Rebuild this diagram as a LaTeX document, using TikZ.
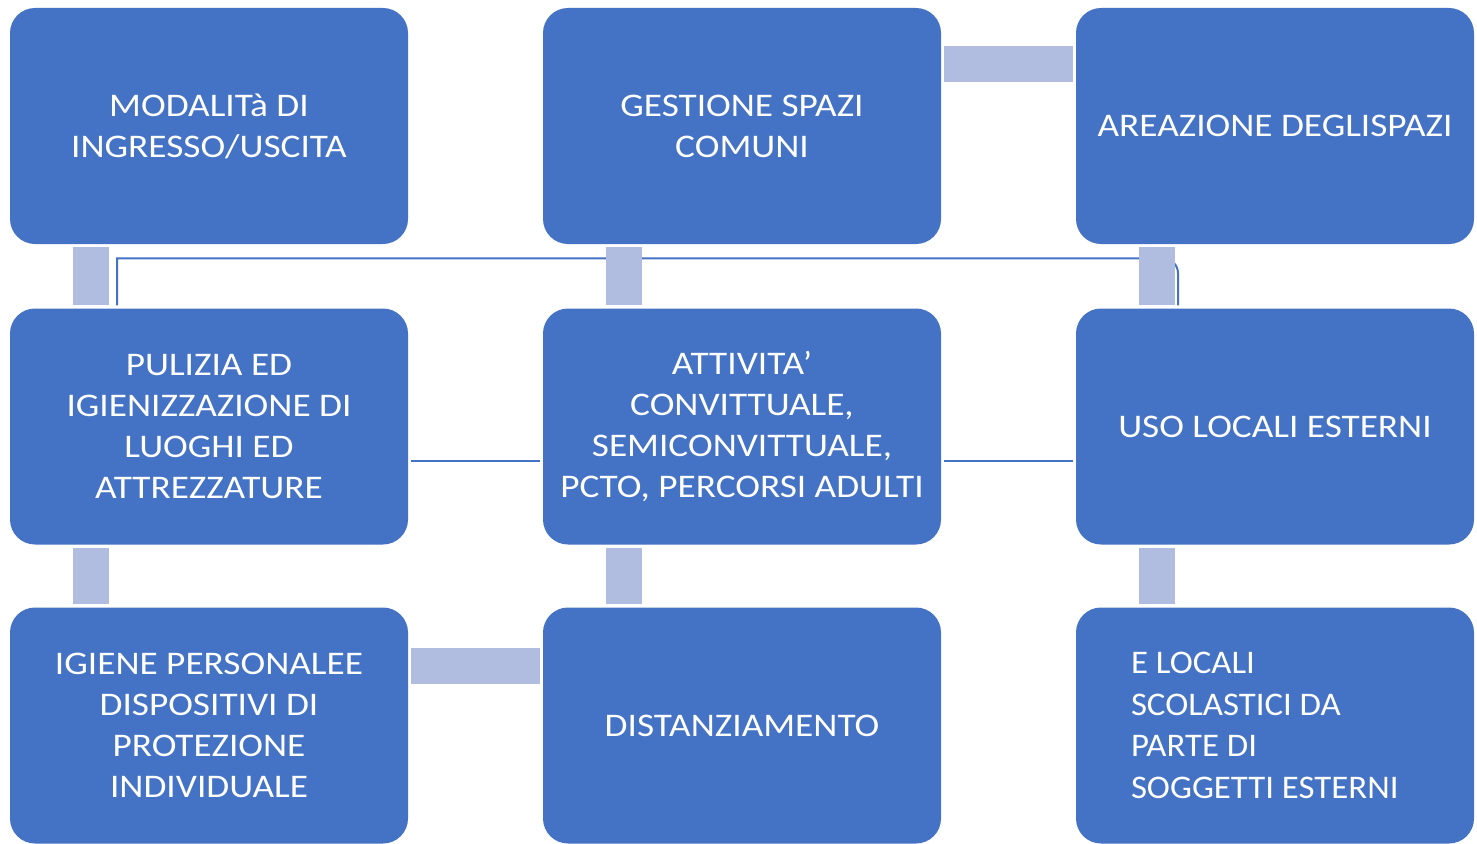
\documentclass[tikz,border=0pt]{standalone}
\usepackage{fontspec}
\setmainfont{Carlito}[FakeStretch=1.13]
\newfontfamily\narrowcard{Carlito}[FakeStretch=1.055]
\definecolor{boxblue}{HTML}{4472C4}
\definecolor{barblue}{HTML}{B0BDE0}
\tikzset{
  card/.style={rectangle, rounded corners=25pt, fill=boxblue, text=white,
    minimum width=398pt, minimum height=236pt, align=center,
    font=\fontsize{33}{41}\selectfont},
  bar/.style={draw=barblue, line width=36pt, shorten <=3pt, shorten >=3pt},
  wire/.style={draw=boxblue, line width=2pt, shorten <=3pt, shorten >=3pt}
}
\begin{document}
\begin{tikzpicture}[x=1pt, y=-1pt]
    \useasboundingbox (0,0) rectangle (1477,843);
    \def\ax{209}; \def\bx{742}; \def\cx{1275};
    \def\ay{126}; \def\by{426.5}; \def\cy{725.5};

    \node[card] (MO) at (\ax,\ay) {MODALIT\`a DI\\INGRESSO/USCITA};
    \node[card] (GS) at (\bx,\ay) {GESTIONE SPAZI\\COMUNI};
    \node[card] (AR) at (\cx,\ay) {AREAZIONE DEGLISPAZI};
    \node[card] (PU) at (\ax,\by) {PULIZIA ED\\IGIENIZZAZIONE DI\\LUOGHI ED\\ATTREZZATURE};
    \node[card] (AT) at (\bx,\by) {ATTIVITA’\\CONVITTUALE,\\SEMICONVITTUALE,\\PCTO, PERCORSI ADULTI};
    \node[card] (US) at (\cx,\by) {USO LOCALI ESTERNI};
    \node[card] (IG) at (\ax,\cy) {IGIENE PERSONALEE\\DISPOSITIVI DI\\PROTEZIONE\\INDIVIDUALE};
    \node[card] (DI) at (\bx,\cy) {DISTANZIAMENTO};
    \node[card, align=flush left, text width=288pt, inner xsep=55pt,
      font=\narrowcard\fontsize{33}{41.7}\selectfont] (LO) at (\cx,\cy)
      {E LOCALI\\SCOLASTICI DA\\PARTE DI\\SOGGETTI ESTERNI};

    % thin links
    \draw[wire] ([yshift=-34.5pt]PU.east) -- ([yshift=-34.5pt]AT.west);
    \draw[wire] ([yshift=-34.5pt]AT.east) -- ([yshift=-34.5pt]US.west);
    \draw[wire] ([xshift=-92pt]PU.north) -- ++(0,-50) [rounded corners=15pt]
      -| ([xshift=-97pt]US.north);

    % light bars
    \draw[bar] ([xshift=-118.5pt]MO.south) -- ([xshift=-118.5pt]PU.north);
    \draw[bar] ([xshift=-118.5pt]PU.south) -- ([xshift=-118.5pt]IG.north);
    \draw[bar] ([xshift=-118.5pt]GS.south) -- ([xshift=-118.5pt]AT.north);
    \draw[bar] ([xshift=-118.5pt]AT.south) -- ([xshift=-118.5pt]DI.north);
    \draw[bar] ([xshift=-118.5pt]AR.south) -- ([xshift=-118.5pt]US.north);
    \draw[bar] ([xshift=-118.5pt]US.south) -- ([xshift=-118.5pt]LO.north);
    \draw[bar] ([yshift=62pt]GS.east) -- ([yshift=62pt]AR.west);
    \draw[bar] ([yshift=60pt]IG.east) -- ([yshift=60pt]DI.west);
\end{tikzpicture}
\end{document}
